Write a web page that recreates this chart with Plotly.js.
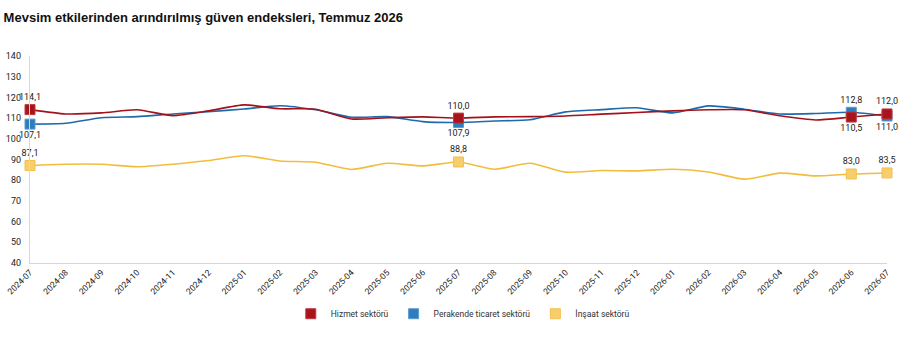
<!DOCTYPE html>
<html>
<head>
<meta charset="utf-8">
<script src="https://cdn.plot.ly/plotly-3.0.1.min.js"></script>
<style>
  html, body { margin: 0; padding: 0; background: #fff; }
  #chart { width: 904px; height: 343px; }
</style>
</head>
<body>
<div id="chart"></div>
<script>
// Monthly seasonally adjusted confidence indices by sector
const months = ['2024-07','2024-08','2024-09','2024-10','2024-11','2024-12',
  '2025-01','2025-02','2025-03','2025-04','2025-05','2025-06',
  '2025-07','2025-08','2025-09','2025-10','2025-11','2025-12',
  '2026-01','2026-02','2026-03','2026-04','2026-05','2026-06','2026-07'];

const hizmet = [114.1, 112.0, 112.5, 114.0, 111.2, 113.5,
  116.4, 114.5, 114.3, 109.6, 110.2, 110.6,
  110.0, 110.6, 110.7, 111.0, 111.9, 112.7,
  113.5, 114.0, 114.0, 111.1, 109.1, 110.5, 112.0];

const perakende = [107.1, 107.5, 110.2, 110.7, 112.0, 113.1,
  114.4, 116.0, 114.0, 110.4, 110.7, 108.3,
  107.9, 108.6, 109.2, 113.0, 114.1, 115.0,
  112.5, 115.9, 114.3, 112.0, 112.2, 112.8, 111.0];

const insaat = [87.1, 87.7, 87.7, 86.5, 87.7, 89.5,
  91.8, 89.3, 88.7, 85.2, 88.2, 86.9,
  88.8, 85.3, 88.2, 83.9, 84.7, 84.5,
  85.3, 84.0, 80.5, 83.4, 82.1, 83.0, 83.5];

const seriesNames = ['Hizmet sektörü', 'Perakende ticaret sektörü', 'İnşaat sektörü'];
const yTicks = [40, 50, 60, 70, 80, 90, 100, 110, 120, 130, 140];

// Months whose values are marked and labelled
const labelledMonths = ['2024-07', '2025-07', '2026-06', '2026-07'];

const styles = [
  { line: '#a3121a', fill: '#a8141c', edge: '#c0393f',
    pos: ['top center', 'top center', 'bottom center', 'top center'] },
  { line: '#1f69ad', fill: '#2f7cbd', edge: '#5a9ad0',
    pos: ['bottom center', 'bottom center', 'top center', 'bottom center'] },
  { line: '#f2bd3c', fill: '#f8cd6c', edge: '#f2c050',
    pos: ['top center', 'top center', 'top center', 'top center'] }
];

const allSeries = [hizmet, perakende, insaat];
const idx = labelledMonths.map(m => months.indexOf(m));

const traces = [];

// smooth lines, construction first so services sits on top
[2, 1, 0].forEach(s => {
  traces.push({
    type: 'scatter', mode: 'lines', x: months, y: allSeries[s],
    line: { color: styles[s].line, width: 1.6, shape: 'spline', smoothing: 0.6 },
    showlegend: false, hoverinfo: 'skip'
  });
});

// square markers with value labels
[2, 1, 0].forEach(s => {
  traces.push({
    type: 'scatter', mode: 'markers+text',
    x: idx.map(i => months[i]), y: idx.map(i => allSeries[s][i]),
    texttemplate: '%{y:.1f}', textposition: styles[s].pos,
    textfont: { family: 'Roboto, sans-serif', size: 9, color: '#222' },
    marker: { symbol: 'square', size: 10, color: styles[s].fill,
      line: { color: styles[s].edge, width: 1 } },
    showlegend: false, hoverinfo: 'skip', cliponaxis: false
  });
});

// legend entries
[0, 1, 2].forEach(s => {
  traces.push({
    type: 'scatter', mode: 'markers', x: [null], y: [null], name: seriesNames[s],
    marker: { symbol: 'square', size: 10, color: styles[s].fill,
      line: { color: styles[s].edge, width: 1 } },
    showlegend: true
  });
});

const layout = {
  width: 904, height: 343,
  separators: ',.',
  paper_bgcolor: '#fff', plot_bgcolor: '#fff',
  margin: { l: 30, r: 17, t: 56, b: 80, autoexpand: false },
  font: { family: 'Roboto, sans-serif', size: 9, color: '#222' },
  title: {
    text: '<b>Mevsim etkilerinden arındırılmış güven endeksleri, Temmuz 2026</b>',
    font: { family: 'Liberation Sans, Arial, sans-serif', size: 13, color: '#111' },
    xref: 'container', x: 0.004, xanchor: 'left',
    yref: 'container', y: 0.948, yanchor: 'middle'
  },
  xaxis: {
    type: 'category', range: [0, 24],
    tickangle: -45, tickfont: { size: 8.5, color: '#222' },
    showgrid: false, zeroline: false,
    showline: true, linecolor: '#d6d6dc', linewidth: 1.2,
    ticks: '', fixedrange: true
  },
  yaxis: {
    range: [40, 140], tickvals: yTicks, ticktext: yTicks.map(String),
    tickfont: { size: 9, color: '#222' },
    showgrid: false, zeroline: false,
    showline: true, linecolor: '#d6d6e2', linewidth: 1.2,
    ticks: '', ticklabelstandoff: 6, fixedrange: true
  },
  legend: {
    orientation: 'h', x: 0.505, xanchor: 'center', y: -0.175, yanchor: 'top',
    itemwidth: 30, tracegroupgap: 0,
    font: { size: 8.5, color: '#333' }, itemclick: false, itemdoubleclick: false
  },
  showlegend: true
};

Plotly.newPlot('chart', traces, layout, { displayModeBar: false, staticPlot: true });
</script>
</body>
</html>
